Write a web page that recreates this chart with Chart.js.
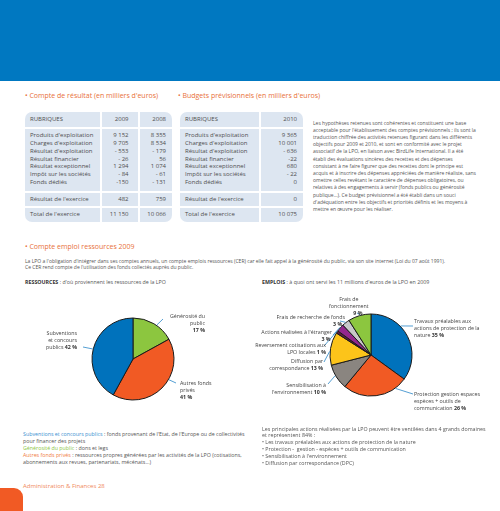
<!DOCTYPE html>
<html>
<head>
<meta charset="utf-8">
<script src="https://cdn.jsdelivr.net/npm/chart.js@4/dist/chart.umd.min.js"></script>
<style>
  html, body { margin: 0; padding: 0; background: #fff; }
  #page { position: relative; width: 500px; height: 511px; overflow: hidden; font-family: 'Open Sans', sans-serif; color: #555; }
  .abs { position: absolute; white-space: nowrap; }
  .head { position: absolute; left: 0; top: 0; width: 500px; height: 81px; background: #0078c1; }
  .title { color: #e8703a; font-size: 7px; line-height: 8px; }
  .tbl { position: absolute; background: #dde6f1; border-radius: 7px; overflow: hidden; }
  .vl { position: absolute; top: 0; width: 1.5px; height: 110px; background: #fff; }
  .hl { position: absolute; left: 0; height: 1.5px; background: #fff; }
  .cell { position: absolute; font-size: 6px; line-height: 7.8px; white-space: nowrap; color: #4d4d4d; }
  .small { font-size: 5px; line-height: 7.2px; color: #555; }
  .lbl { font-size: 5.3px; line-height: 7px; color: #444; }
  .lbl b { color: #333; }
  canvas { position: absolute; }
</style>
</head>
<body>
<div id="page">
  <div class="head"></div>

  <div class="abs title" style="left:25px; top:92px;">• Compte de résultat (en milliers d'euros)</div>
  <div class="abs title" style="left:178px; top:92px;">• Budgets prévisionnels (en milliers d'euros)</div>

  <div id="t1" class="tbl" style="left:25px; top:112px; width:147px; height:110px;"></div>
  <div id="t2" class="tbl" style="left:180px; top:112px; width:123px; height:110px;"></div>

  <div class="abs small" style="left:313px; top:119.5px;">Les hypothèses retenues sont cohérentes et constituent une base<br>acceptable pour l'établissement des comptes prévisionnels ; ils sont la<br>traduction chiffrée des activités retenues figurant dans les différents<br>objectifs pour 2009 et 2010, et sont en conformité avec le projet<br>associatif de la LPO, en liaison avec BirdLife International. Il a été<br>établi des évaluations sincères des recettes et des dépenses<br>consistant à ne faire figurer que des recettes dont le principe est<br>acquis et à inscrire des dépenses appréciées de manière réaliste, sans<br>omettre celles revêtant le caractère de dépenses obligatoires, ou<br>relatives à des engagements à servir (fonds publics ou générosité<br>publique…). Ce budget prévisionnel a été établi dans un souci<br>d'adéquation entre les objectifs et priorités définis et les moyens à<br>mettre en œuvre pour les réaliser.</div>

  <div class="abs title" style="left:25px; top:243px;">• Compte emploi ressources 2009</div>
  <div class="abs small" style="left:25px; top:257.5px; line-height:6px;">La LPO a l'obligation d'intégrer dans ses comptes annuels, un compte emplois ressources (CER) car elle fait appel à la générosité du public, via son site internet (Loi du 07 août 1991).<br>Ce CER rend compte de l'utilisation des fonds collectés auprès du public.</div>

  <div class="abs small" style="left:25px; top:278.5px; font-size:5.3px;"><b style="color:#333">RESSOURCES</b> : d'où proviennent les ressources de la LPO</div>
  <div class="abs small" style="left:262px; top:278.5px; font-size:5.3px;"><b style="color:#333">EMPLOIS</b> : à quoi ont servi les 11 millions d'euros de la LPO en 2009</div>

  <canvas id="ressources" width="200" height="120" style="left:40px; top:300px;"></canvas>
  <canvas id="emplois" width="240" height="130" style="left:250px; top:290px;"></canvas>

  <!-- labels pie 1 -->
  <div class="abs lbl" style="right:295px; top:312.5px; text-align:right;">Générosité du<br>public<br><b>17 %</b></div>
  <div class="abs lbl" style="right:423px; top:329.5px; text-align:right;">Subventions<br>et concours<br>publics <b>42 %</b></div>
  <div class="abs lbl" style="left:180px; top:379.5px;">Autres fonds<br>privés<br><b>41 %</b></div>

  <!-- labels pie 2 -->
  <div class="abs lbl" style="left:329px; top:295.5px; text-align:center;">Frais de<br>fonctionnement<br><span style="padding-left:18px"><b>9 %</b></span></div>
  <div class="abs lbl" style="right:155px; top:313.5px; text-align:right;">Frais de recherche de fonds<br><b>3 %</b>&nbsp;&nbsp;</div>
  <div class="abs lbl" style="right:168px; top:328.5px; text-align:right;">Actions réalisées à l'étranger<br><b>3 %</b>&nbsp;</div>
  <div class="abs lbl" style="right:174px; top:341.5px; text-align:right;">Reversement cotisations aux<br>LPO locales <b>1 %</b></div>
  <div class="abs lbl" style="right:177px; top:357.5px; text-align:right;">Diffusion par<br>correspondance <b>13 %</b></div>
  <div class="abs lbl" style="right:174px; top:381.5px; text-align:right;">Sensibilisation à<br>l'environnement <b>10 %</b></div>
  <div class="abs lbl" style="left:414px; top:317.5px;">Travaux préalables aux<br>actions de protection de la<br>nature <b>35 %</b></div>
  <div class="abs lbl" style="left:414px; top:390.5px;">Protection gestion espaces<br>espèces + outils de<br>communication <b>26 %</b></div>

  <div class="abs small" style="left:23px; top:430.5px; line-height:7px; font-size:5.3px;"><span style="color:#3a8fd0">Subventions et concours publics</span> : fonds provenant de l'Etat, de l'Europe ou de collectivités<br>pour financer des projets<br><span style="color:#8cc63f">Générosité du public</span> : dons et legs<br><span style="color:#f07a40">Autres fonds privés</span> : ressources propres générées par les activités de la LPO (cotisations,<br>abonnements aux revues, partenariats, mécénats...)</div>

  <div class="abs small" style="left:262px; top:425.5px; line-height:6.9px; font-size:5.3px;">Les principales actions réalisées par la LPO peuvent être ventilées dans 4 grands domaines<br>et représentent 84% :<br>• Les travaux préalables aux actions de protection de la nature<br>• Protection -&nbsp; gestion - espèces + outils de communication<br>• Sensibilisation à l'environnement<br>• Diffusion par correspondance (DPC)</div>

  <div class="abs" style="left:23px; top:482px; font-size:6px; line-height:8px; color:#f0885a;">Administration &amp; Finances 28</div>
  <div class="abs" style="left:0; top:488px; width:23px; height:23px; background:#f15a24; border-top-right-radius:9px;"></div>

  <div class="abs" style="left:466px; top:372px; font-size:4.5px; color:#c9dcee; transform:rotate(-90deg); transform-origin:center;">Infographie Hugues © Christophe Sergent Pessac</div>
</div>

<script>
'use strict';

// ********** TABLE DATA **********

let rubriques = ["Produits d'exploitation", "Charges d'exploitation", "Résultat d'exploitation", 'Résultat financier', 'Résultat exceptionnel', 'Impôt sur les sociétés', 'Fonds dédiés'];
let values2009 = ['9 152', '9 705', '- 553', '- 26', '1 294', '- 84', '-150'];
let values2008 = ['8 355', '8 534', '- 179', '56', '1 074', '- 61', '- 131'];
let values2010 = ['9 365', '10 001', '- 636', '-22', '680', '- 22', '0'];
let resultat = { y2009: '482', y2008: '759', y2010: '0' };
let total = { y2009: '11 150', y2008: '10 066', y2010: '10 075' };

// ********** CHART DATA **********

let ressLabels = ['Générosité du public', 'Autres fonds privés', 'Subventions et concours publics'];
let ressValues = [17, 41, 42];
let ressColors = ['#8cc63f', '#f15a24', '#0072bc'];

let emploiLabels = ['Travaux préalables aux actions de protection de la nature', 'Protection gestion espaces espèces + outils de communication', "Sensibilisation à l'environnement", 'Diffusion par correspondance', 'Reversement cotisations aux LPO locales', "Actions réalisées à l'étranger", 'Frais de recherche de fonds', 'Frais de fonctionnement'];
let emploiValues = [35, 26, 10, 13, 1, 3, 3, 9];
let emploiColors = ['#0072bc', '#f15a24', '#8a8580', '#fcc41a', '#5c1e3e', '#93278f', '#c7c8ca', '#8cc63f'];

// ********** TABLES **********

function addCell(parent, text, x, y, align) {
  let d = document.createElement('div');
  d.className = 'cell';
  d.textContent = text;
  d.style.top = (y - 3.9) + 'px';
  if (align === 'right') {
    d.style.right = (parent.offsetWidth - x) + 'px';
  } else {
    d.style.left = x + 'px';
  }
  parent.appendChild(d);
}

function addLine(parent, cls, pos, len) {
  let d = document.createElement('div');
  d.className = cls;
  if (cls === 'vl') {
    d.style.left = pos + 'px';
  } else {
    d.style.top = pos + 'px';
    d.style.width = len + 'px';
  }
  parent.appendChild(d);
}

function buildTable(el, dividers, cols, headers, res, tot) {
  let w = el.offsetWidth;
  dividers.forEach(x => addLine(el, 'vl', x, 0));
  [15, 79, 94].forEach(y => addLine(el, 'hl', y, w));
  addCell(el, 'RUBRIQUES', 5, 8);
  addCell(el, "Résultat de l'exercice", 5, 87.5);
  addCell(el, "Total de l'exercice", 5, 102.5);
  for (let i = 0; i < rubriques.length; i++) {
    addCell(el, rubriques[i], 5, 24 + i * 7.8);
  }
  cols.forEach((col, c) => {
    addCell(el, headers[c], col.x, 8, 'right');
    col.vals.forEach((v, i) => addCell(el, v, col.x, 24 + i * 7.8, 'right'));
    addCell(el, res[c], col.x, 87.5, 'right');
    addCell(el, tot[c], col.x, 102.5, 'right');
  });
}

buildTable(document.getElementById('t1'), [75, 113],
  [{ x: 103.5, vals: values2009 }, { x: 141, vals: values2008 }],
  ['2009', '2008'], [resultat.y2009, resultat.y2008], [total.y2009, total.y2008]);

buildTable(document.getElementById('t2'), [79],
  [{ x: 117, vals: values2010 }],
  ['2010'], [resultat.y2010], [total.y2010]);

// ********** LEADER LINES PLUGIN **********

// each line: [angle on the circle (deg, clockwise from top), end x, end y] in page coords
const leaderPlugin = {
  id: 'leaders',
  afterDraw(chart, args, opts) {
    let ctx = chart.ctx;
    let arcs = chart.getDatasetMeta(0).data;
    let offX = chart.canvas.offsetLeft;
    let offY = chart.canvas.offsetTop;
    ctx.save();
    ctx.strokeStyle = '#2a86c8';
    ctx.lineWidth = 0.8;
    opts.lines.forEach((l, i) => {
      let arc = arcs[i];
      let a = (l[0] - 90) * Math.PI / 180;
      let r = arc.outerRadius + 0.5;
      ctx.beginPath();
      ctx.moveTo(arc.x + r * Math.cos(a), arc.y + r * Math.sin(a));
      ctx.lineTo(l[1] - offX, l[2] - offY);
      ctx.stroke();
    });
    ctx.restore();
  }
};

// ********** CHARTS **********

new Chart(document.getElementById('ressources'), {
  type: 'pie',
  data: {
    labels: ressLabels,
    datasets: [{
      data: ressValues,
      backgroundColor: ressColors,
      borderColor: '#1a1a1a',
      borderWidth: 1
    }]
  },
  options: {
    responsive: false,
    animation: false,
    radius: 41,
    layout: { padding: { left: 0, right: 14, top: 0, bottom: 2 } },
    plugins: {
      legend: { display: false },
      tooltip: { enabled: false },
      leaders: { lines: [[35, 163, 319], [120, 176, 383], [284, 83, 347]] }
    }
  },
  plugins: [leaderPlugin]
});

new Chart(document.getElementById('emplois'), {
  type: 'pie',
  data: {
    labels: emploiLabels,
    datasets: [{
      data: emploiValues,
      backgroundColor: emploiColors,
      borderColor: '#1a1a1a',
      borderWidth: 1
    }]
  },
  options: {
    responsive: false,
    animation: false,
    radius: 41,
    layout: { padding: { left: 2, right: 0, top: 0, bottom: 0 } },
    plugins: {
      legend: { display: false },
      tooltip: { enabled: false },
      leaders: {
        lines: [[45.6, 413, 326], [143.7, 413, 394], [240, 328, 384], [275, 324, 362],
                [305, 324, 346], [312, 333, 335], [322, 340, 321], [345, 357, 313]]
      }
    }
  },
  plugins: [leaderPlugin]
});
</script>
</body>
</html>
